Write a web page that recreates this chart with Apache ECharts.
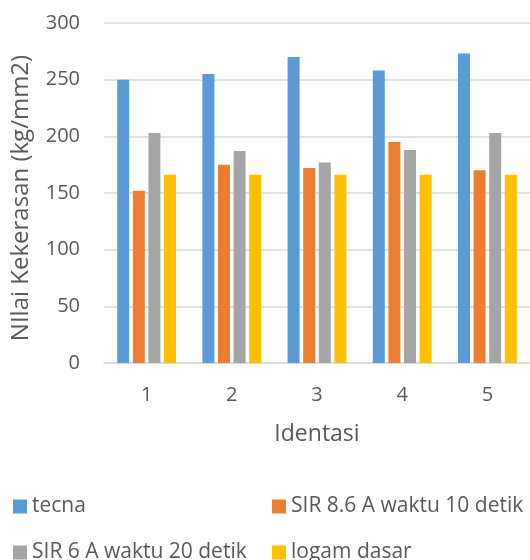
<!DOCTYPE html>
<html>
<head>
<meta charset="utf-8">
<script src="https://cdn.jsdelivr.net/npm/echarts@6/dist/echarts.min.js"></script>
<style>
html,body{margin:0;padding:0;background:#fff;}
#chart{width:530px;height:560px;}
</style>
</head>
<body>
<div id="chart"></div>
<script>
var categories = ['1', '2', '3', '4', '5'];
var seriesNames = ['tecna', 'SIR 8.6 A waktu 10 detik', 'SIR 6 A waktu 20 detik', 'logam dasar'];
var tecna = [250, 255, 270, 258, 273];
var sir86 = [152, 175, 172, 195, 170];
var sir6 = [203, 187, 177, 188, 203];
var logamDasar = [166, 166, 166, 166, 166];
var yTicks = [0, 50, 100, 150, 200, 250, 300];

var colors = ['#5b9bd5', '#ed7d31', '#a5a5a5', '#ffc000'];
var font = '"Open Sans", sans-serif';
var textColor = '#595959';

var chart = echarts.init(document.getElementById('chart'));
var dataSets = [tecna, sir86, sir6, logamDasar];
var series = dataSets.map(function (d, i) {
  return {
    name: seriesNames[i],
    type: 'bar',
    data: d,
    barWidth: 12,
    barGap: '30%',
    itemStyle: { color: colors[i] }
  };
});

var legendPos = [[13, 496], [272, 496], [13, 542], [272, 542]];
var legends = seriesNames.map(function (n, i) {
  return {
    data: [n],
    left: legendPos[i][0], top: legendPos[i][1],
    padding: 0,
    itemWidth: 14, itemHeight: 14,
    icon: 'rect',
    textStyle: { fontFamily: font, fontSize: 21, color: textColor }
  };
});

chart.setOption({
  animation: false,
  color: colors,
  grid: { left: 104, right: 0, top: 23, bottom: 197, containLabel: false, outerBoundsMode: 'none' },
  legend: legends,
  xAxis: {
    type: 'category',
    data: categories,
    name: 'Identasi',
    nameLocation: 'middle',
    nameGap: 60,
    nameTextStyle: { fontFamily: font, fontSize: 23, color: textColor },
    axisLine: { lineStyle: { color: '#d9d9d9', width: 1.5 } },
    axisTick: { show: false },
    axisLabel: { fontFamily: font, fontSize: 20, color: textColor, margin: 22 }
  },
  yAxis: {
    type: 'value',
    min: 0, max: 300, interval: 50,
    name: 'NIlai Kekerasan (kg/mm2)',
    nameLocation: 'middle',
    nameGap: 71,
    nameTextStyle: { fontFamily: font, fontSize: 24, color: textColor, padding: [0, 10, 0, 0] },
    axisLine: { show: false },
    axisTick: { show: false },
    axisLabel: { fontFamily: font, fontSize: 20, color: textColor, margin: 24,
      formatter: function (v) { return yTicks.indexOf(v) >= 0 ? String(v) : ''; } },
    splitLine: { lineStyle: { color: '#d9d9d9', width: 1.5 } }
  },
  series: series
});
</script>
</body>
</html>
